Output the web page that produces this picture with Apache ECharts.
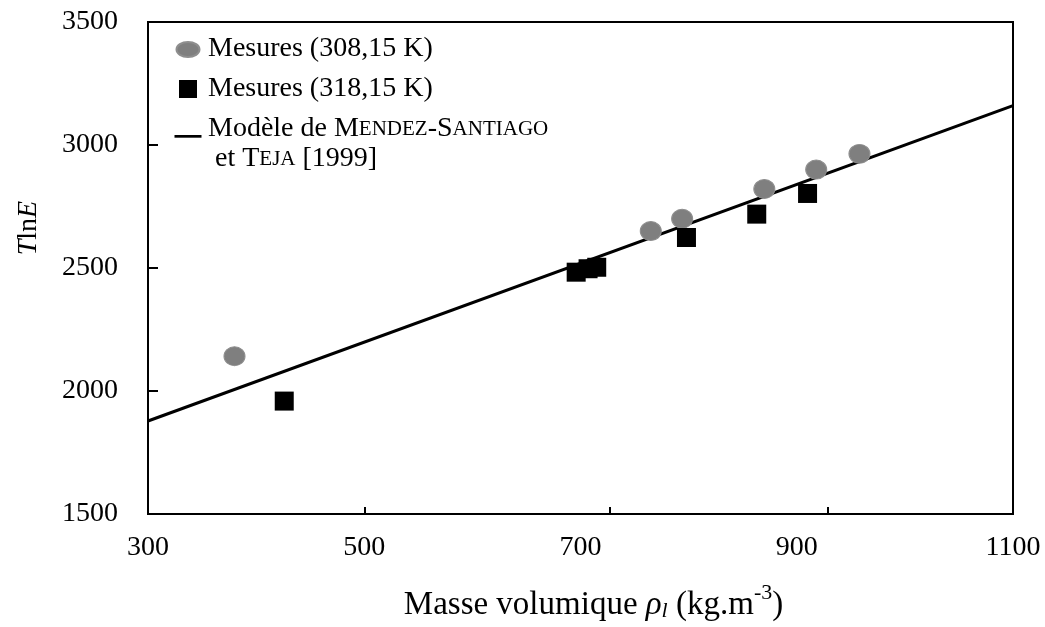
<!DOCTYPE html>
<html>
<head>
<meta charset="utf-8">
<script src="https://cdn.jsdelivr.net/npm/echarts@6/dist/echarts.min.js"></script>
<style>
html,body{margin:0;padding:0;background:#fff;}
#chart{width:1045px;height:627px;}
</style>
</head>
<body>
<div id="chart"></div>
<script>
// ---- data ----
var seriesNames = ['Mesures (308,15 K)', 'Mesures (318,15 K)', 'Modèle de Mendez-Santiago et Teja [1999]'];

var rho308 = [380, 765, 794, 870, 918, 958];
var tlnE308 = [2141, 2650, 2700, 2821, 2900, 2964];

var rho318 = [426, 696, 707, 715, 798, 863, 910];
var tlnE318 = [1959, 2483, 2497, 2503, 2624, 2719, 2803];

var modelRho = [300, 1100];
var modelTlnE = [1878, 3160];

var xMin = 300, xMax = 1100, xStep = 200;
var yMin = 1500, yMax = 3500, yStep = 500;
var xTickMarks = [500, 727, 929];

function pairs(xs, ys) { return xs.map(function (x, i) { return [x, ys[i]]; }); }

var FONT = "'Liberation Serif', 'Times New Roman', serif";

var chart = echarts.init(document.getElementById('chart'), null, { renderer: 'canvas' });

var option = {
  backgroundColor: '#ffffff',
  animation: false,
  textStyle: { fontFamily: FONT, color: '#000' },
  grid: {
    left: 148, right: 32, top: 22, bottom: 105,
    show: true, borderColor: '#000', borderWidth: 2, backgroundColor: 'transparent'
  },
  legend: {
    orient: 'vertical',
    left: 172, top: 34,
    padding: 0,
    itemGap: 10,
    itemWidth: 30, itemHeight: 18,
    selectedMode: false,
    textStyle: {
      fontFamily: FONT, fontSize: 28, color: '#000', lineHeight: 30,
      rich: {
        sc: { fontFamily: FONT, fontSize: 21, color: '#000', lineHeight: 30 }
      }
    },
    formatter: function (name) {
      if (name === seriesNames[2]) {
        return 'Modèle de M{sc|ENDEZ}-S{sc|ANTIAGO}\n et T{sc|EJA} [1999]';
      }
      return name;
    },
    data: [
      { name: seriesNames[0], icon: 'path://M0,0 M30,18 M3.5,9.5a11.5,7.5 0 1,0 23,0a11.5,7.5 0 1,0 -23,0Z' },
      { name: seriesNames[1], icon: 'path://M0,0H10V10H0Z' },
      { name: seriesNames[2], icon: 'path://M0,20 M0,0H30V3H0Z' }
    ]
  },
  xAxis: {
    type: 'value',
    min: xMin, max: xMax, interval: xStep,
    name: '{n|Masse volumique }{ri|ρ}{sub|l}{n| (kg.m}{sup|-3}{n|)}',
    nameLocation: 'middle',
    nameGap: 68,
    nameTextStyle: {
      padding: [0, 0, 0, 26],
      rich: {
        n: { fontFamily: FONT, fontSize: 33, color: '#000', lineHeight: 40, verticalAlign: 'bottom' },
        ri: { fontFamily: FONT, fontSize: 33, fontStyle: 'italic', color: '#000', lineHeight: 40, verticalAlign: 'bottom' },
        sub: { fontFamily: FONT, fontSize: 22, fontStyle: 'italic', color: '#000', lineHeight: 22, verticalAlign: 'bottom' },
        sup: { fontFamily: FONT, fontSize: 22, color: '#000', lineHeight: 22, verticalAlign: 'top' }
      }
    },
    axisLine: { show: true, onZero: false, lineStyle: { color: '#000', width: 2 } },
    axisTick: { show: true, inside: true, length: 7, customValues: xTickMarks, lineStyle: { color: '#000', width: 2 } },
    axisLabel: { fontFamily: FONT, fontSize: 28, color: '#000', margin: 20, formatter: function (v) { return String(v); } },
    splitLine: { show: false }
  },
  yAxis: {
    type: 'value',
    min: yMin, max: yMax, interval: yStep,
    name: '{i|T}{n|ln}{i|E}',
    nameLocation: 'middle',
    nameGap: 105,
    nameRotate: 90,
    nameTextStyle: {
      padding: [0, 0, 0, 80],
      rich: {
        n: { fontFamily: FONT, fontSize: 28, color: '#000' },
        i: { fontFamily: FONT, fontSize: 28, fontStyle: 'italic', color: '#000' }
      }
    },
    axisLine: { show: true, onZero: false, lineStyle: { color: '#000', width: 2 } },
    axisTick: { show: true, inside: true, length: 10, lineStyle: { color: '#000', width: 2 } },
    axisLabel: { fontFamily: FONT, fontSize: 28, color: '#000', margin: 30, formatter: function (v) { return String(v); } },
    splitLine: { show: false }
  },
  series: [
    {
      name: seriesNames[2],
      type: 'line',
      data: pairs(modelRho, modelTlnE),
      showSymbol: false,
      symbol: 'none',
      color: '#000',
      lineStyle: { color: '#000', width: 3 },
      z: 2
    },
    {
      name: seriesNames[0],
      type: 'scatter',
      data: pairs(rho308, tlnE308),
      symbol: 'circle',
      symbolSize: [21, 19],
      itemStyle: { color: '#7f7f7f', borderColor: '#8e8e8e', borderWidth: 1, opacity: 1 },
      z: 3
    },
    {
      name: seriesNames[1],
      type: 'scatter',
      data: pairs(rho318, tlnE318),
      symbol: 'rect',
      symbolSize: 19,
      itemStyle: { color: '#000', opacity: 1 },
      z: 4
    }
  ]
};

chart.setOption(option);
</script>
</body>
</html>
